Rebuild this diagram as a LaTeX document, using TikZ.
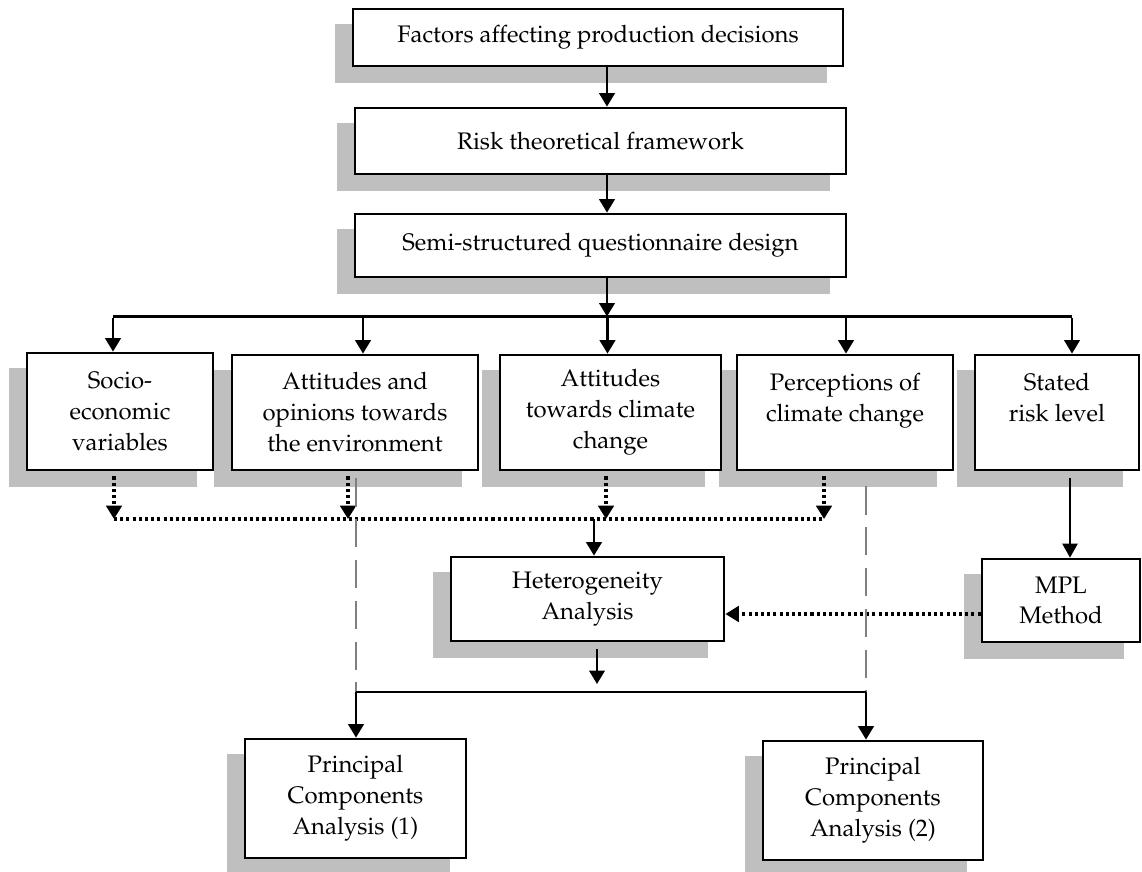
\documentclass[tikz,border=0pt]{standalone}
\usepackage[T1]{fontenc}
\usepackage{mathpazo}
\usepackage{xcolor}
\definecolor{shadowgray}{RGB}{191,191,191}
\definecolor{dashgray}{RGB}{128,128,128}
\usetikzlibrary{arrows.meta,calc,backgrounds}
\tikzset{
  box/.style={draw,line width=2pt,fill=white,inner sep=0pt,align=center,%
    font=\fontsize{17}{22}\selectfont},
  dims/.style 2 args={minimum width=#1*0.025cm,minimum height=#2*0.025cm},
  flow/.style={-{Triangle[length=9.5pt,width=11pt]},line width=1.6pt},
  thinflow/.style={-{Triangle[length=10pt,width=11pt]},line width=0.9pt},
  dotline/.style={line width=2.3pt,dash pattern=on 2.2pt off 2.2pt},
  dotflow/.style={dotline,-{Triangle[length=9.5pt,width=11pt]}},
  dashline/.style={draw=dashgray,line width=1.8pt,dash pattern=on 20pt off 9pt},
}

\begin{document}
\begin{tikzpicture}[x=0.025cm,y=-0.025cm]
\useasboundingbox (0,0) rectangle (1142,872);
\node[box,dims={490}{57}] (fac) at (598,37.5) {Factors affecting production decisions};
\node[box,dims={491}{66}] (risk) at (600.5,141) {Risk theoretical framework};
\node[box,dims={491}{63}] (quest) at (600.5,245.5) {Semi-structured questionnaire design};
\node[box,dims={186}{117}] (socio) at (120,411.5) {Socio-\\economic\\variables};
\node[box,dims={246}{115}] (attenv) at (355,412.5) {Attitudes and\\opinions towards\\the environment};
\node[box,dims={221}{115}] (attclim) at (610.5,412.5) {Attitudes\\towards climate\\change};
\node[box,dims={216}{115}] (percep) at (845,412.5) {Perceptions of\\climate change\\~};
\node[box,dims={164}{115}] (stated) at (1057,412.5) {Stated\\risk level\\~};
\node[box,dims={273}{84}] (hetero) at (587.5,599) {Heterogeneity\\Analysis};
\node[box,dims={158}{83}] (mpl) at (1061,600.5) {MPL\\Method};
\node[box,dims={221}{119}] (pca1) at (355.5,798.5) {Principal\\Components\\Analysis (1)};
\node[box,dims={220}{119}] (pca2) at (873,800.5) {Principal\\Components\\Analysis (2)};

\coordinate (trunk) at (607,0);
\coordinate (bus) at (0,316.5);
\coordinate (dotbus) at (0,519);
\coordinate (lowbus) at (0,692);
\coordinate (mplrow) at (0,614);

\draw[flow] (fac.south -| trunk) -- (risk.north -| trunk);
\draw[flow] (risk.south -| trunk) -- (quest.north -| trunk);
\draw[flow] (quest.south -| trunk) -- (trunk |- bus);

\foreach \n/\dx in {socio/-7,attenv/8,attclim/-3,percep/1,stated/15}
  \coordinate (\n-in) at ($(\n.north)+(\dx,0)$);
\draw[line width=1.6pt] (socio-in |- bus) -- (stated-in |- bus);
\foreach \n in {socio,attenv,attclim,percep,stated}
  \draw[flow] ($(\n-in |- bus)+(0,2)$) -- (\n-in);

\foreach \n/\dx in {socio/-6,attenv/-7,attclim/-4.5,percep/-21}
  \coordinate (\n-out) at ($(\n.south)+(\dx,5)$);
\draw[dotline] (socio-out |- dotbus) -- (percep-out |- dotbus);
\foreach \n in {socio,attenv,attclim,percep}
  \draw[dotflow] (\n-out) -- (\n-out |- dotbus);

\coordinate (hetero-in) at ($(hetero.north)+(6.5,0)$);
\draw[flow] (hetero-in |- dotbus) -- (hetero-in);

\coordinate (mpl-in) at ($(mpl.north)+(9,0)$);
\draw[thinflow] ($(stated.south -| mpl-in)+(0,7)$) -- (mpl-in);
\draw[dotflow] (mpl.west |- mplrow) -- (hetero.east |- mplrow);

\coordinate (hetero-out) at ($(hetero.south)+(9.5,7)$);
\draw[flow] (hetero-out) -- ($(hetero-out |- lowbus)+(0,-8)$);

\coordinate (pca1-in) at ($(pca1.north)+(0.5,0)$);
\coordinate (pca2-in) at ($(pca2.north)+(-7,0)$);
\draw[dashline] ($(pca1-in |- attenv.south)+(0,7)$) -- (pca1-in |- lowbus);
\draw[dashline] ($(pca2-in |- percep.south)+(0,15)$) -- (pca2-in |- lowbus);
\draw[line width=1.6pt] (pca1-in |- lowbus) -- (pca2-in |- lowbus);
\draw[flow] (pca1-in |- lowbus) -- (pca1-in);
\draw[flow] (pca2-in |- lowbus) -- (pca2-in);

\begin{scope}[on background layer]
\foreach \n in {fac,risk,quest,socio,attenv,attclim,percep,stated,hetero,mpl,pca1,pca2}
  \fill[shadowgray] ($(\n.south west)+(-17,16)$) rectangle ($(\n.north east)+(-17,16)$);
\end{scope}
\end{tikzpicture}
\end{document}
